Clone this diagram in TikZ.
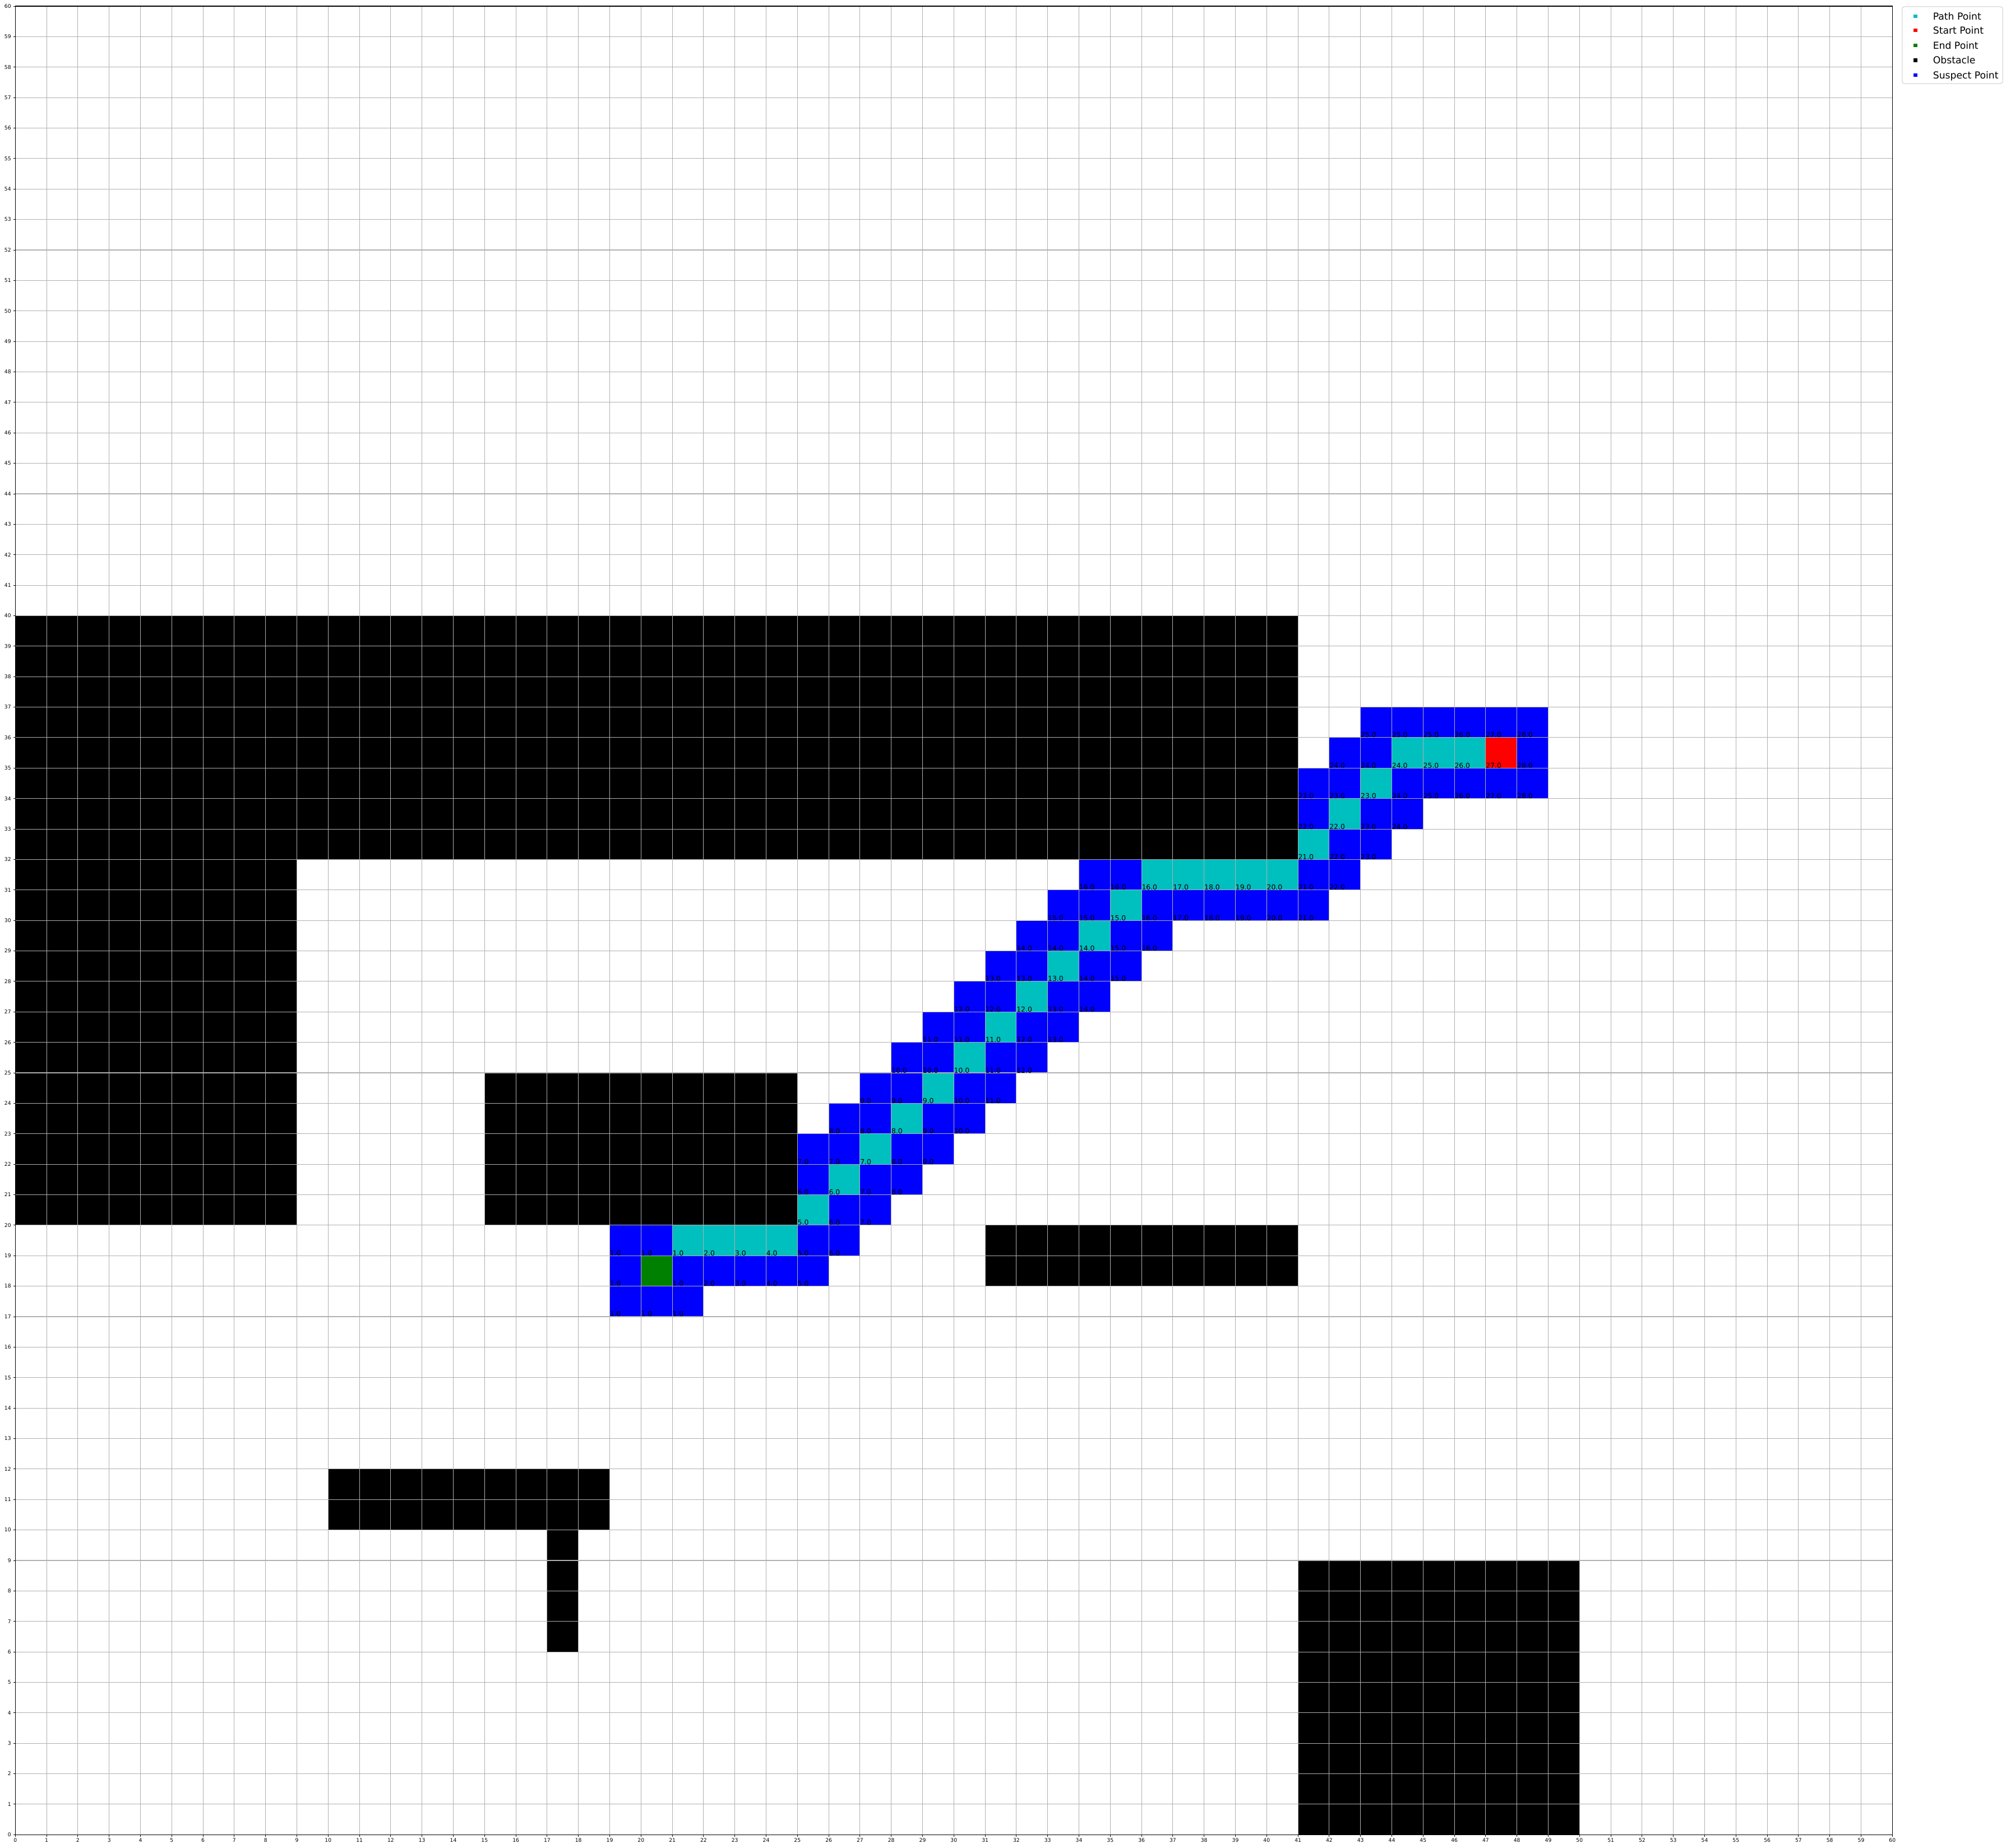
\documentclass[tikz,border=0pt]{standalone}
\usepackage{fontspec}
\setmainfont{DejaVu Sans}
\definecolor{pth}{RGB}{0,191,191}
\definecolor{sus}{RGB}{0,0,255}
\definecolor{stc}{RGB}{255,0,0}
\definecolor{enc}{RGB}{0,128,0}
\definecolor{gridc}{RGB}{176,176,176}
\definecolor{legc}{RGB}{204,204,204}
\begin{document}
\begin{tikzpicture}[
  cellval/.style={anchor=base west, inner sep=0pt, font=\fontsize{6.2}{7}\selectfont, text=black},
  ticklab/.style={inner sep=0pt, font=\fontsize{4.6}{5}\selectfont},
  legtext/.style={anchor=base west, inner sep=0pt, font=\fontsize{8.6}{10}\selectfont},
  legmark/.style={minimum size=3.3pt, inner sep=0pt, draw=none},
  gridline/.style={draw=gridc, line width=0.55pt},
  tickmark/.style={line width=0.45pt},
]
\useasboundingbox (0,0) rectangle (1789pt,1648.5pt);
\fill[white] (0,0) rectangle (1789pt,1648.5pt);
\begin{scope}[shift={(13.65pt,11.85pt)}, x=27.9pt, y=27.185pt]
  % obstacles
  \foreach \xa/\ya/\xb/\yb in {0/32/41/40, 0/20/9/32, 15/20/25/25, 31/18/41/20, 10/10/19/12, 17/6/18/10, 41/0/50/9}
    {\fill[black] (\xa,\ya) rectangle (\xb,\yb);}
  % cells
  \foreach \x/\y/\c/\v in {
    43/36/sus/25.0, 44/36/sus/25.0, 45/36/sus/25.0, 46/36/sus/26.0, 47/36/sus/27.0, 48/36/sus/28.0,
    42/35/sus/24.0, 43/35/sus/24.0, 44/35/pth/24.0, 45/35/pth/25.0, 46/35/pth/26.0, 47/35/stc/27.0, 48/35/sus/28.0,
    41/34/sus/23.0, 42/34/sus/23.0, 43/34/pth/23.0, 44/34/sus/24.0, 45/34/sus/25.0, 46/34/sus/26.0, 47/34/sus/27.0, 48/34/sus/28.0,
    41/33/sus/22.0, 42/33/pth/22.0, 43/33/sus/23.0, 44/33/sus/24.0,
    41/32/pth/21.0, 42/32/sus/22.0, 43/32/sus/23.0,
    34/31/sus/16.0, 35/31/sus/16.0, 36/31/pth/16.0, 37/31/pth/17.0, 38/31/pth/18.0, 39/31/pth/19.0, 40/31/pth/20.0, 41/31/sus/21.0, 42/31/sus/22.0,
    33/30/sus/15.0, 34/30/sus/15.0, 35/30/pth/15.0, 36/30/sus/16.0, 37/30/sus/17.0, 38/30/sus/18.0, 39/30/sus/19.0, 40/30/sus/20.0, 41/30/sus/21.0,
    32/29/sus/14.0, 33/29/sus/14.0, 34/29/pth/14.0, 35/29/sus/15.0, 36/29/sus/16.0,
    31/28/sus/13.0, 32/28/sus/13.0, 33/28/pth/13.0, 34/28/sus/14.0, 35/28/sus/15.0,
    30/27/sus/12.0, 31/27/sus/12.0, 32/27/pth/12.0, 33/27/sus/13.0, 34/27/sus/14.0,
    29/26/sus/11.0, 30/26/sus/11.0, 31/26/pth/11.0, 32/26/sus/12.0, 33/26/sus/13.0,
    28/25/sus/10.0, 29/25/sus/10.0, 30/25/pth/10.0, 31/25/sus/11.0, 32/25/sus/12.0,
    27/24/sus/9.0, 28/24/sus/9.0, 29/24/pth/9.0, 30/24/sus/10.0, 31/24/sus/11.0,
    26/23/sus/8.0, 27/23/sus/8.0, 28/23/pth/8.0, 29/23/sus/9.0, 30/23/sus/10.0,
    25/22/sus/7.0, 26/22/sus/7.0, 27/22/pth/7.0, 28/22/sus/8.0, 29/22/sus/9.0,
    25/21/sus/6.0, 26/21/pth/6.0, 27/21/sus/7.0, 28/21/sus/8.0,
    25/20/pth/5.0, 26/20/sus/6.0, 27/20/sus/7.0,
    19/19/sus/1.0, 20/19/sus/1.0, 21/19/pth/1.0, 22/19/pth/2.0, 23/19/pth/3.0, 24/19/pth/4.0, 25/19/sus/5.0, 26/19/sus/6.0,
    19/18/sus/1.0, 21/18/sus/1.0, 22/18/sus/2.0, 23/18/sus/3.0, 24/18/sus/4.0, 25/18/sus/5.0,
    19/17/sus/1.0, 20/17/sus/1.0, 21/17/sus/1.0}
    {\fill[fill=\c] (\x,\y) rectangle ++(1,1);}
  \fill[enc] (20,18) rectangle ++(1,1);
  % grid
  \foreach \i in {0,...,60} {
    \draw[gridline] (\i,0) -- (\i,60);
    \draw[gridline] (0,\i) -- (60,\i);
  }
  % cell values
  \foreach \x/\y/\v in {
    43/36/25.0, 44/36/25.0, 45/36/25.0, 46/36/26.0, 47/36/27.0, 48/36/28.0,
    42/35/24.0, 43/35/24.0, 44/35/24.0, 45/35/25.0, 46/35/26.0, 47/35/27.0, 48/35/28.0,
    41/34/23.0, 42/34/23.0, 43/34/23.0, 44/34/24.0, 45/34/25.0, 46/34/26.0, 47/34/27.0, 48/34/28.0,
    41/33/22.0, 42/33/22.0, 43/33/23.0, 44/33/24.0,
    41/32/21.0, 42/32/22.0, 43/32/23.0,
    34/31/16.0, 35/31/16.0, 36/31/16.0, 37/31/17.0, 38/31/18.0, 39/31/19.0, 40/31/20.0, 41/31/21.0, 42/31/22.0,
    33/30/15.0, 34/30/15.0, 35/30/15.0, 36/30/16.0, 37/30/17.0, 38/30/18.0, 39/30/19.0, 40/30/20.0, 41/30/21.0,
    32/29/14.0, 33/29/14.0, 34/29/14.0, 35/29/15.0, 36/29/16.0,
    31/28/13.0, 32/28/13.0, 33/28/13.0, 34/28/14.0, 35/28/15.0,
    30/27/12.0, 31/27/12.0, 32/27/12.0, 33/27/13.0, 34/27/14.0,
    29/26/11.0, 30/26/11.0, 31/26/11.0, 32/26/12.0, 33/26/13.0,
    28/25/10.0, 29/25/10.0, 30/25/10.0, 31/25/11.0, 32/25/12.0,
    27/24/9.0, 28/24/9.0, 29/24/9.0, 30/24/10.0, 31/24/11.0,
    26/23/8.0, 27/23/8.0, 28/23/8.0, 29/23/9.0, 30/23/10.0,
    25/22/7.0, 26/22/7.0, 27/22/7.0, 28/22/8.0, 29/22/9.0,
    25/21/6.0, 26/21/6.0, 27/21/7.0, 28/21/8.0,
    25/20/5.0, 26/20/6.0, 27/20/7.0,
    19/19/1.0, 20/19/1.0, 21/19/1.0, 22/19/2.0, 23/19/3.0, 24/19/4.0, 25/19/5.0, 26/19/6.0,
    19/18/1.0, 21/18/1.0, 22/18/2.0, 23/18/3.0, 24/18/4.0, 25/18/5.0,
    19/17/1.0, 20/17/1.0, 21/17/1.0}
    {\node[cellval] (v-\x-\y) at (\x,\y) {\v};}
  % axes frame
  \draw[line width=0.7pt] (0,0) rectangle (60,60);
  \foreach \i in {0,...,60} {
    \draw[tickmark] (\i,0) -- ++(0,-1.65pt);
    \draw[tickmark] (0,\i) -- ++(-1.65pt,0);
    \node[ticklab, anchor=north, yshift=-3pt] (xt-\i) at (\i,0) {\i};
    \node[ticklab, anchor=east, xshift=-3.6pt] (yt-\i) at (0,\i) {\i};
  }
\end{scope}
% legend
\draw[legc, line width=0.5pt, rounded corners=2pt, fill=white] (1696.4pt,1573.9pt) rectangle (1786pt,1642.5pt);
\node[legmark, fill=pth] (m1) at (1708.2pt,1634pt) {};
\node[legmark, fill=stc] (m2) at (1708.2pt,1621.4pt) {};
\node[legmark, fill=enc] (m3) at (1708.2pt,1608pt) {};
\node[legmark, fill=black] (m4) at (1708.2pt,1594.7pt) {};
\node[legmark, fill=sus] (m5) at (1708.2pt,1581.4pt) {};
\node[legtext] (t1) at (1723.7pt,1630.9pt) {Path Point};
\node[legtext] (t2) at (1723.7pt,1618.3pt) {Start Point};
\node[legtext] (t3) at (1723.7pt,1604.9pt) {End Point};
\node[legtext] (t4) at (1723.7pt,1591.6pt) {Obstacle};
\node[legtext] (t5) at (1723.7pt,1578.3pt) {Suspect Point};
\end{tikzpicture}
\end{document}
